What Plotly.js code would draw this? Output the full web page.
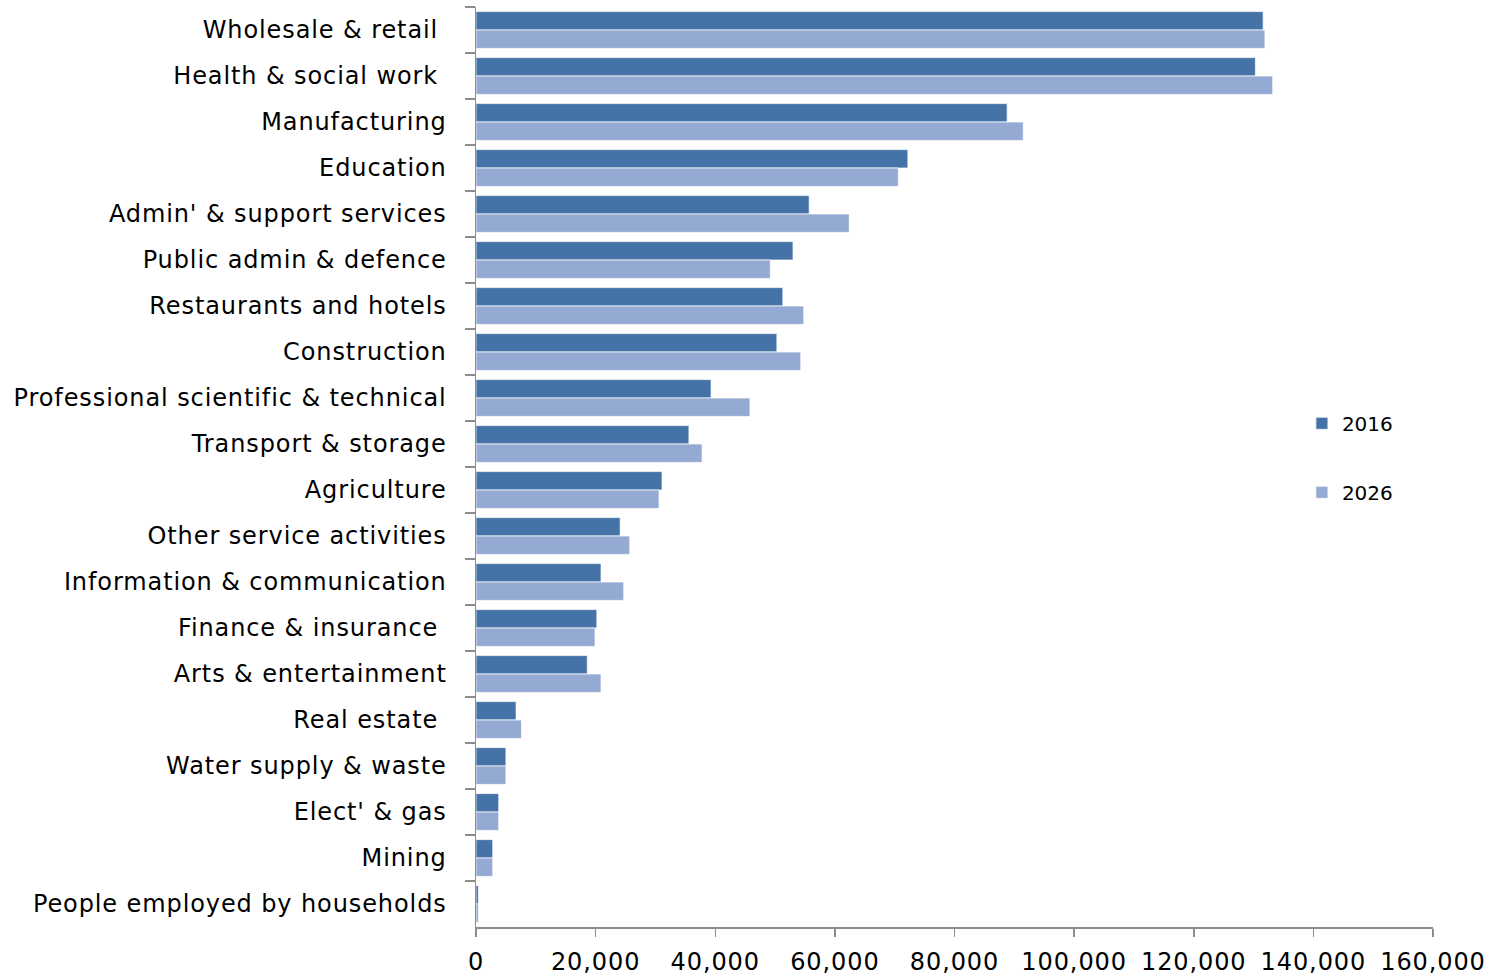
<!DOCTYPE html>
<html>
<head>
<meta charset="utf-8">
<script src="https://cdn.plot.ly/plotly-3.0.1.min.js"></script>
<style>
html,body{margin:0;padding:0;background:#fff;}
#chart{width:1504px;height:976px;}
#chart .xtick text, #chart .ytick text{letter-spacing:0.9px;}
</style>
</head>
<body>
<div id="chart"></div>
<script>
const categories = [
  "Wholesale & retail\u00a0",
  "Health & social work\u00a0",
  "Manufacturing",
  "Education",
  "Admin' & support services",
  "Public admin & defence",
  "Restaurants and hotels",
  "Construction",
  "Professional scientific & technical",
  "Transport & storage",
  "Agriculture",
  "Other service activities",
  "Information & communication",
  "Finance & insurance\u00a0",
  "Arts & entertainment",
  "Real estate\u00a0",
  "Water supply & waste",
  "Elect' & gas",
  "Mining",
  "People employed by households"
];
const values2016 = [131600, 130300, 88800, 72200, 55700, 53000, 51300, 50300, 39300, 35600, 31100, 24100, 20900, 20200, 18600, 6700, 5000, 3800, 2800, 400];
const values2026 = [131900, 133200, 91500, 70600, 62400, 49200, 54800, 54300, 45800, 37800, 30600, 25700, 24700, 19900, 20900, 7600, 5000, 3800, 2800, 400];
const xTickVals = [0, 20000, 40000, 60000, 80000, 100000, 120000, 140000, 160000];
const xTickText = ["0", "20,000", "40,000", "60,000", "80,000", "100,000", "120,000", "140,000", "160,000"];

const font = "DejaVu Sans, Verdana, sans-serif";
const data = [
  {type: "bar", orientation: "h", name: "2016", legendgroup: "a", y: categories, x: values2016,
   marker: {color: "#4573a7", line: {color: "rgba(255,255,255,0.7)", width: 1}}, hoverinfo: "x+y"},
  {type: "bar", orientation: "h", name: "2026", legendgroup: "b", y: categories, x: values2026,
   marker: {color: "#95aad2", line: {color: "rgba(255,255,255,0.7)", width: 1}}, hoverinfo: "x+y"}
];
const layout = {
  width: 1504, height: 976,
  margin: {l: 476, r: 71, t: 7, b: 49, pad: 0},
  paper_bgcolor: "#fff", plot_bgcolor: "#fff",
  barmode: "group", bargap: 0.2, bargroupgap: 0,
  font: {family: font, color: "#000", size: 24},
  showlegend: true,
  legend: {x: 0.863, y: 0.51, xanchor: "left", yanchor: "middle", tracegroupgap: 40,
           font: {family: font, size: 20, color: "#000"}, bgcolor: "rgba(0,0,0,0)"},
  xaxis: {range: [0, 160000], tickvals: xTickVals, ticktext: xTickText, showgrid: false, zeroline: false,
          showline: true, linecolor: "#8c8c8c", linewidth: 1.5, ticks: "outside", ticklen: 8, tickwidth: 1.5,
          tickcolor: "#8c8c8c", ticklabelstandoff: 5, tickfont: {family: font, size: 24, color: "#000"}, fixedrange: true},
  yaxis: {type: "category", autorange: "reversed", showgrid: false, zeroline: false, showline: true,
          linecolor: "#8c8c8c", linewidth: 1.5, ticks: "outside", ticklen: 10, tickwidth: 1.5, tickcolor: "#8c8c8c",
          tickson: "boundaries", ticklabelstandoff: 23, tickfont: {family: font, size: 24, color: "#000"}, fixedrange: true}
};
Plotly.newPlot("chart", data, layout, {displayModeBar: false, staticPlot: true});
</script>
</body>
</html>
